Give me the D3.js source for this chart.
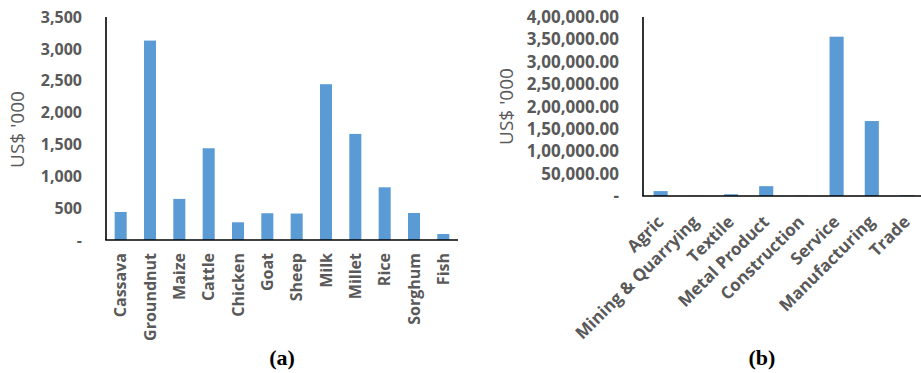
<!DOCTYPE html>
<html>
<head>
<meta charset="utf-8">
<script src="https://cdn.jsdelivr.net/npm/d3@7"></script>
<style>
  html, body { margin: 0; padding: 0; background: #fff; }
  svg { display: block; }
  .tick-label { font-family: "Open Sans", sans-serif; font-weight: 700; fill: #595959; }
  .axis-title { font-family: "Open Sans", sans-serif; font-weight: 400; fill: #595959; }
  .caption { font-family: "Liberation Serif", "Times New Roman", serif; font-weight: 700; fill: #000; }
</style>
</head>
<body>
<svg id="chart" width="921" height="373"></svg>
<script>
// Panel (a): agricultural products
const categoriesA = ["Cassava", "Groundnut", "Maize", "Cattle", "Chicken", "Goat", "Sheep", "Milk", "Millet", "Rice", "Sorghum", "Fish"];
const valuesA = [440, 3130, 645, 1440, 278, 420, 415, 2445, 1665, 827, 424, 94];
const tickValuesA = [0, 500, 1000, 1500, 2000, 2500, 3000, 3500];
const tickLabelsA = ["-", "500", "1,000", "1,500", "2,000", "2,500", "3,000", "3,500"];

// Panel (b): sectors
const categoriesB = ["Agric", "Mining & Quarrying", "Textile", "Metal Product", "Construction", "Service", "Manufacturing", "Trade"];
const valuesB = [11000, 500, 4000, 22000, 600, 356000, 167500, 1500];
const tickValuesB = [0, 50000, 100000, 150000, 200000, 250000, 300000, 350000, 400000];
const tickLabelsB = ["-", "50,000.00", "1,00,000.00", "1,50,000.00", "2,00,000.00", "2,50,000.00", "3,00,000.00", "3,50,000.00", "4,00,000.00"];

const axisTitle = "US$ '000";
const barColor = "#5B9BD5";

const svg = d3.select("#chart");

function drawPanel(cfg) {
  const g = svg.append("g");
  const x = d3.scaleBand()
    .domain(cfg.categories)
    .range([cfg.left, cfg.right])
    .paddingInner(cfg.pad)
    .paddingOuter(cfg.pad / 2);
  const y = d3.scaleLinear()
    .domain([0, cfg.max])
    .range([cfg.bottom, cfg.top]);

  // bars
  g.selectAll("rect.bar")
    .data(cfg.values)
    .join("rect")
    .attr("class", "bar")
    .attr("x", (d, i) => x(cfg.categories[i]))
    .attr("width", x.bandwidth())
    .attr("y", d => y(d))
    .attr("height", d => y(0) - y(d))
    .attr("fill", barColor);

  // value axis labels
  g.selectAll("text.ytick")
    .data(cfg.ticks)
    .join("text")
    .attr("class", "tick-label ytick")
    .attr("x", cfg.tickRight)
    .attr("y", d => y(d))
    .attr("dy", "0.36em")
    .attr("text-anchor", "end")
    .style("font-size", cfg.fontSize + "px")
    .text((d, i) => cfg.tickLabels[i]);

  // category labels
  g.selectAll("text.xtick")
    .data(cfg.categories)
    .join("text")
    .attr("class", "tick-label xtick")
    .attr("transform", d => `translate(${x(d) + x.bandwidth() / 2 + cfg.labelDx},${cfg.labelY}) rotate(${cfg.angle})`)
    .attr("dy", cfg.labelDy)
    .attr("text-anchor", "end")
    .style("font-size", cfg.fontSize + "px")
    .text(d => d);

  // axis lines
  g.append("line")
    .attr("x1", cfg.left).attr("x2", cfg.left)
    .attr("y1", cfg.top).attr("y2", cfg.bottom)
    .attr("stroke", "#000").attr("stroke-width", 1.6);
  g.append("line")
    .attr("x1", cfg.left - 0.8).attr("x2", cfg.axisEnd)
    .attr("y1", cfg.bottom).attr("y2", cfg.bottom)
    .attr("stroke", "#000").attr("stroke-width", 1.6);

  // axis title
  g.append("text")
    .attr("class", "axis-title")
    .attr("transform", `translate(${cfg.titleX},${(cfg.top + cfg.bottom) / 2 + cfg.titleDy}) rotate(-90)`)
    .attr("text-anchor", "middle")
    .style("font-size", "19px")
    .text(axisTitle);

  // caption
  g.append("text")
    .attr("class", "caption")
    .attr("x", cfg.captionX)
    .attr("y", 365)
    .attr("text-anchor", "middle")
    .style("font-size", "22px")
    .text(cfg.caption);
}

drawPanel({
  categories: categoriesA, values: valuesA, ticks: tickValuesA, tickLabels: tickLabelsA,
  max: 3500, left: 106, right: 458, axisEnd: 458, top: 17, bottom: 240, pad: 0.59,
  tickRight: 82, fontSize: 16, angle: -90, labelDx: 0, labelY: 253, labelDy: "0.36em",
  titleX: 24, titleDy: 1, captionX: 282, caption: "(a)"
});

drawPanel({
  categories: categoriesB, values: valuesB, ticks: tickValuesB, tickLabels: tickLabelsB,
  max: 400000, left: 643, right: 924.6, axisEnd: 921, top: 17, bottom: 196, pad: 0.6,
  tickRight: 619, fontSize: 17, angle: -45, labelDx: 4, labelY: 223, labelDy: "0",
  titleX: 513, titleDy: 0, captionX: 762, caption: "(b)"
});
</script>
</body>
</html>
